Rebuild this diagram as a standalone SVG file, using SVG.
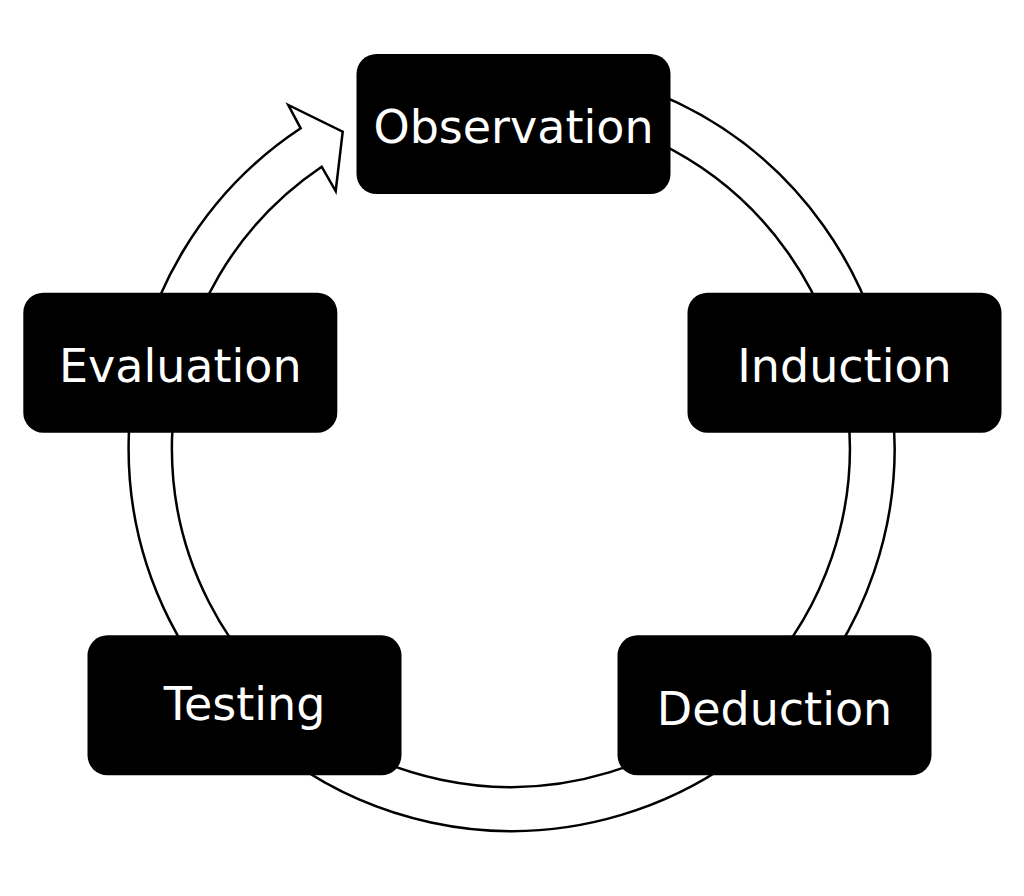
<svg xmlns="http://www.w3.org/2000/svg" width="1024" height="896" viewBox="0 0 1024 896">
<style>
.box{fill:#000;}
.lbl{fill:#fff;font-family:"DejaVu Sans","Liberation Sans",sans-serif;font-size:46px;text-anchor:middle;}
.ring{fill:#fff;stroke:#000;stroke-width:2.5;stroke-linejoin:miter;}
</style>
<rect width="1024" height="896" fill="#fff"/>
<g id="connectors">
<path class="ring" d="M512,65 A383,383 0 1 1 300.7,128.3 L288.3,105 L342.7,131.7 L335.7,191 L321.7,166.7 A339,339 0 1 0 512,109 Z"/>
</g>
<g id="observation">
<rect class="box" x="356.5" y="54" width="314" height="140" rx="20"/>
<text class="lbl" x="513.5" y="143">Observation</text>
</g>
<g id="induction">
<rect class="box" x="687.5" y="292.7" width="314" height="140" rx="20"/>
<text class="lbl" x="844.5" y="382">Induction</text>
</g>
<g id="deduction">
<rect class="box" x="617.5" y="635.3" width="314" height="140" rx="20"/>
<text class="lbl" x="774.5" y="724.5">Deduction</text>
</g>
<g id="testing">
<rect class="box" x="87.5" y="635.3" width="314" height="140" rx="20"/>
<text class="lbl" x="244.5" y="720.3">Testing</text>
</g>
<g id="evaluation">
<rect class="box" x="23.3" y="292.7" width="314" height="140" rx="20"/>
<text class="lbl" x="180.3" y="382">Evaluation</text>
</g>
</svg>
